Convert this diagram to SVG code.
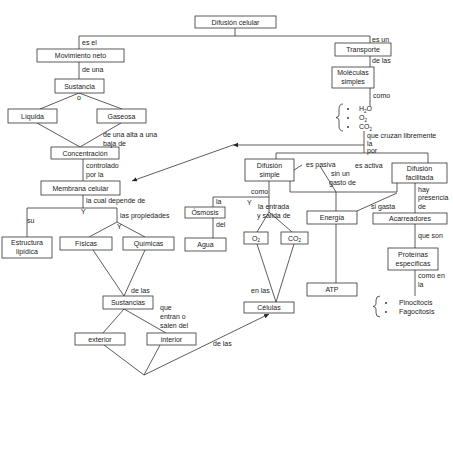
<svg xmlns="http://www.w3.org/2000/svg" width="453" height="453" viewBox="0 0 453 453">
<defs>
<marker id="ah" markerWidth="6" markerHeight="6" refX="5" refY="3" orient="auto" markerUnits="userSpaceOnUse">
<path d="M0,0.8 L5,3 L0,5.2 Z" fill="#222"/>
</marker>
<style>
.b{fill:#fff;stroke:#333;stroke-width:0.8}
.t{font-family:"Liberation Sans",Arial,sans-serif;font-size:7px;fill:#222}
.c{text-anchor:middle}
.l{fill:none;stroke:#333;stroke-width:0.8}
</style>
</defs>
<rect width="453" height="453" fill="#fff"/>
<g id="connectors" class="l">
<path d="M235,28 V36"/>
<path d="M79,49 V36 H370 V43"/>
<path d="M79,62 V79"/>
<path d="M370,56 V67"/>
<path d="M370,88 V106"/>
<path d="M343,104 Q339,104 339,109 V115 Q339,117 336,117.5 Q339,118 339,120 V126 Q339,131 343,131"/>
<path d="M364,131 V153"/>
<path d="M276,159 V153 H428 V163"/>
<path d="M364,145 H233" marker-end="url(#ah)"/>
<path d="M233,145 L132,181" marker-end="url(#ah)"/>
<path d="M79,93 L40,109 M79,93 L122,109"/>
<path d="M37,123 L80,147 M121,123 L80,147"/>
<path d="M83,159 V181"/>
<path d="M83,195 V208"/>
<path d="M27,237 V208 H117 V222"/>
<path d="M117,222 L89,237 M117,222 L145,237"/>
<path d="M93,250 L124,296 M145,250 L124,296"/>
<path d="M124,309 L103,333 M124,309 L166,333"/>
<path d="M104,345 L144,375 M160,345 L144,375"/>
<path d="M144,375 L269,314" marker-end="url(#ah)"/>
<path d="M269,181 V212"/>
<path d="M269,197 H213 V207"/>
<path d="M213,218 V238"/>
<path d="M269,212 L257,232 M269,212 L292,232"/>
<path d="M257,244 L276,302 M294,244 L276,302"/>
<path d="M294,170 L302,165"/>
<path d="M320,166 L336,192 V283"/>
<path d="M290,181 V192 H397 V183"/>
<path d="M397,193 L357,211"/>
<path d="M415,183 V213"/>
<path d="M415,224 V248"/>
<path d="M415,270 V296"/>
<path d="M380,296 Q376,296 376,300 V304 Q376,306 373,306.5 Q376,307 376,309 V313 Q376,317 380,317"/>
</g>
<g id="n-difusion-celular"><rect class="b" x="195" y="16" width="81" height="12"/><text class="t c" x="235.5" y="24.5">Difusión celular</text></g>
<g id="n-movimiento-neto"><rect class="b" x="37" y="49" width="87" height="13"/><text class="t c" x="80.5" y="58">Movimiento neto</text></g>
<g id="n-sustancia"><rect class="b" x="55" y="79" width="49" height="14"/><text class="t c" x="79.5" y="88.5">Sustancia</text></g>
<g id="n-liquida"><rect class="b" x="8" y="109" width="49" height="14"/><text class="t c" x="32.5" y="118.5">Líquida</text></g>
<g id="n-gaseosa"><rect class="b" x="97" y="109" width="49" height="14"/><text class="t c" x="121.5" y="118.5">Gaseosa</text></g>
<g id="n-concentracion"><rect class="b" x="51" y="147" width="68" height="12"/><text class="t c" x="85" y="155.5">Concentración</text></g>
<g id="n-membrana"><rect class="b" x="41" y="181" width="79" height="14"/><text class="t c" x="80.5" y="190.5">Membrana celular</text></g>
<g id="n-estructura"><rect class="b" x="2" y="237" width="50" height="21"/><text class="t c" x="27" y="245">Estructura</text><text class="t c" x="27" y="254">lipídica</text></g>
<g id="n-fisicas"><rect class="b" x="60" y="237" width="52" height="13"/><text class="t c" x="86" y="246">Físicas</text></g>
<g id="n-quimicas"><rect class="b" x="123" y="237" width="51" height="13"/><text class="t c" x="148.5" y="246">Químicas</text></g>
<g id="n-sustancias"><rect class="b" x="103" y="296" width="50" height="13"/><text class="t c" x="128" y="305">Sustancias</text></g>
<g id="n-exterior"><rect class="b" x="75" y="333" width="50" height="12"/><text class="t c" x="100" y="341.5">exterior</text></g>
<g id="n-interior"><rect class="b" x="147" y="333" width="49" height="12"/><text class="t c" x="171.5" y="341.5">interior</text></g>
<g id="n-transporte"><rect class="b" x="335" y="43" width="56" height="13"/><text class="t c" x="363" y="52">Transporte</text></g>
<g id="n-moleculas"><rect class="b" x="332" y="67" width="42" height="21"/><text class="t c" x="353" y="75">Moléculas</text><text class="t c" x="353" y="84">simples</text></g>
<g id="n-difusion-simple"><rect class="b" x="245" y="159" width="49" height="22"/><text class="t c" x="269.5" y="167.5">Difusión</text><text class="t c" x="269.5" y="176.5">simple</text></g>
<g id="n-difusion-facilitada"><rect class="b" x="392" y="163" width="55" height="20"/><text class="t c" x="419.5" y="171">Difusión</text><text class="t c" x="419.5" y="180">facilitada</text></g>
<g id="n-osmosis"><rect class="b" x="185" y="207" width="40" height="11"/><text class="t c" x="205" y="215">Ósmosis</text></g>
<g id="n-agua"><rect class="b" x="185" y="238" width="41" height="13"/><text class="t c" x="205.5" y="247">Agua</text></g>
<g id="n-o2"><rect class="b" x="244" y="232" width="24" height="12"/><text class="t c" x="256" y="240.5">O<tspan font-size="4.5" dy="1.5">2</tspan></text></g>
<g id="n-co2"><rect class="b" x="281" y="232" width="27" height="12"/><text class="t c" x="294.5" y="240.5">CO<tspan font-size="4.5" dy="1.5">2</tspan></text></g>
<g id="n-energia"><rect class="b" x="307" y="211" width="50" height="13"/><text class="t c" x="332" y="220">Energía</text></g>
<g id="n-acarreadores"><rect class="b" x="373" y="213" width="74" height="11"/><text class="t c" x="410" y="221">Acarreadores</text></g>
<g id="n-proteinas"><rect class="b" x="388" y="248" width="50" height="22"/><text class="t c" x="413" y="256.5">Proteínas</text><text class="t c" x="413" y="265.5">específicas</text></g>
<g id="n-atp"><rect class="b" x="307" y="283" width="50" height="13"/><text class="t c" x="332" y="292">ATP</text></g>
<g id="n-celulas"><rect class="b" x="244" y="302" width="50" height="11"/><text class="t c" x="269" y="310">Células</text></g>
<g id="n-moleculas-lista">
<circle cx="348" cy="109" r="0.9" fill="#222"/><circle cx="348" cy="118" r="0.9" fill="#222"/><circle cx="348" cy="127" r="0.9" fill="#222"/>
<text class="t" x="359" y="111">H<tspan font-size="4.5" dy="1.5">2</tspan><tspan dy="-1.5">O</tspan></text>
<text class="t" x="359" y="120">O<tspan font-size="4.5" dy="1.5">2</tspan></text>
<text class="t" x="359" y="129">CO<tspan font-size="4.5" dy="1.5">2</tspan></text>
</g>
<g id="n-endocitosis-lista">
<circle cx="386" cy="303" r="0.9" fill="#222"/><circle cx="386" cy="312" r="0.9" fill="#222"/>
<text class="t" x="399" y="305">Pinocitocis</text>
<text class="t" x="399" y="314">Fagocitosis</text>
</g>
<g id="labels">
<text class="t" x="82" y="45">es el</text>
<text class="t" x="82" y="72">de una</text>
<text class="t" x="77" y="100">o</text>
<text class="t" x="103" y="137">de una alta a una</text>
<text class="t" x="103" y="146">baja de</text>
<text class="t" x="86" y="168">controlado</text>
<text class="t" x="86" y="177">por la</text>
<text class="t" x="86" y="203">la cual depende de</text>
<text class="t" x="81" y="214">Y</text>
<text class="t" x="27" y="223">su</text>
<text class="t" x="120" y="218">las propiedades</text>
<text class="t" x="117" y="229">Y</text>
<text class="t" x="131" y="293">de las</text>
<text class="t" x="160" y="310">que</text>
<text class="t" x="160" y="319">entran o</text>
<text class="t" x="160" y="328">salen del</text>
<text class="t" x="213" y="346">de las</text>
<text class="t" x="372" y="42">es un</text>
<text class="t" x="372" y="63">de las</text>
<text class="t" x="373" y="98">como</text>
<text class="t" x="367" y="138">que cruzan libremente</text>
<text class="t" x="367" y="146">la</text>
<text class="t" x="367" y="153">por</text>
<text class="t" x="306" y="167">es pasiva</text>
<text class="t" x="331" y="176">sin un</text>
<text class="t" x="329" y="185">gasto de</text>
<text class="t" x="355" y="168">es activa</text>
<text class="t" x="251" y="194">como</text>
<text class="t" x="216" y="204">la</text>
<text class="t" x="247" y="205">Y</text>
<text class="t" x="216" y="227">del</text>
<text class="t" x="258" y="209">la entrada</text>
<text class="t" x="257" y="218">y salida de</text>
<text class="t" x="251" y="293">en las</text>
<text class="t" x="371" y="209">si gasta</text>
<text class="t" x="418" y="192">hay</text>
<text class="t" x="418" y="200">presencia</text>
<text class="t" x="418" y="209">de</text>
<text class="t" x="418" y="238">que son</text>
<text class="t" x="418" y="278">como en</text>
<text class="t" x="418" y="287">la</text>
</g>
</svg>
